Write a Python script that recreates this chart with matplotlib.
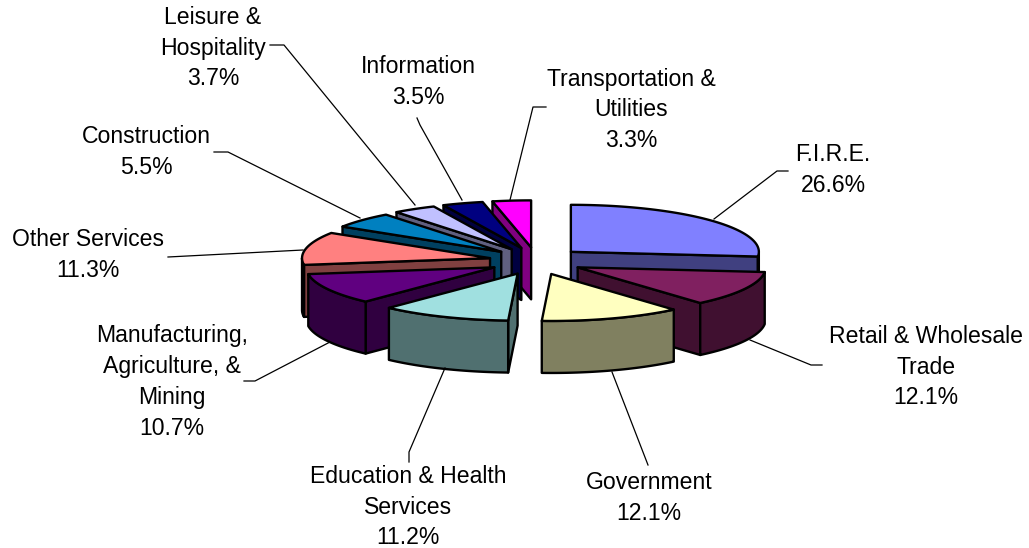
import numpy as np
import matplotlib
matplotlib.use('Agg')
import matplotlib.pyplot as plt
from matplotlib.patches import Polygon

# valeurs du camembert, dans le sens horaire depuis midi
secteurs = ['F.I.R.E.', 'Retail & Wholesale\nTrade', 'Government',
            'Education & Health\nServices', 'Manufacturing,\nAgriculture, &\nMining',
            'Other Services', 'Construction', 'Leisure &\nHospitality',
            'Information', 'Transportation &\nUtilities']
valeurs = [26.6, 12.1, 12.1, 11.2, 10.7, 11.3, 5.5, 3.7, 3.5, 3.3]
couleurs_haut = ['#8080FF', '#802060', '#FFFFC0', '#A0E0E0', '#600080',
                 '#FF8080', '#0080C0', '#C0C0FF', '#000080', '#FF00FF']
couleurs_cote = ['#404080', '#401030', '#808060', '#507070', '#300040',
                 '#804040', '#004060', '#606080', '#000040', '#800080']

# ordre de dessin : du fond vers l'avant
ordre = [9, 8, 7, 6, 5, 4, 3, 0, 1, 2]

# position du texte (x, y centre) et trait de rappel, en pixels
pos_textes = [(833, 170), (926, 367), (649, 498), (408, 507), (172, 382),
              (88, 255), (146, 152), (213, 48), (418, 82), (631, 110)]
rappels = [[(714, 219), (777, 171), (788, 171)],
           [(750, 340), (811, 365), (822, 365)],
           [(612, 372), (648, 465)],
           [(445, 368), (409, 452), (409, 462)],
           [(330, 342), (255, 381), (244, 381)],
           [(303, 250), (168, 257)],
           [(360, 218), (228, 152), (214, 152)],
           [(415, 205), (284, 45), (270, 45)],
           [(462, 200), (420, 125), (417, 118)],
           [(510, 200), (533, 107), (546, 107)]]

# géométrie de la fausse 3D
cx, cy = 536, 261
rx, ry = 188, 47
ex, ey = 47, 13.7
prof = 52


def point(a, x0, y0):
    return (x0 + rx * np.cos(a), y0 - ry * np.sin(a))


fig = plt.figure(figsize=(10.29, 5.48), dpi=100)
ax = fig.add_axes([0, 0, 1, 1])
ax.set_xlim(0, 1029)
ax.set_ylim(548, 0)
ax.axis('off')

bornes = 90 - 3.6 * np.cumsum([0] + valeurs)

for i in ordre:
    a0 = np.radians(bornes[i])      # bord de départ
    a1 = np.radians(bornes[i + 1])  # bord d'arrivée (a1 < a0)
    mid = (a0 + a1) / 2
    x0 = cx + ex * np.cos(mid)
    y0 = cy - ey * np.sin(mid)
    haut, cote = couleurs_haut[i], couleurs_cote[i]
    style = dict(edgecolor='black', linewidth=1.7, joinstyle='round')

    # faces coupées : seulement celles tournées vers le bas
    for a, normale_y in [(a0, np.cos(a0)), (a1, -np.cos(a1))]:
        if normale_y < 0:
            r = point(a, x0, y0)
            ax.add_patch(Polygon([(x0, y0), r, (r[0], r[1] + prof), (x0, y0 + prof)],
                                 closed=True, facecolor=cote, **style))

    # paroi extérieure visible (moitié basse de l'ellipse)
    angles = np.linspace(a0, a1, 80)
    angles = angles[np.sin(angles) <= 0]
    if len(angles) > 1:
        bord = [point(a, x0, y0) for a in angles]
        bas = [(p[0], p[1] + prof) for p in bord[::-1]]
        ax.add_patch(Polygon(bord + bas, closed=True, facecolor=cote, **style))

    # dessus
    dessus = [(x0, y0)] + [point(a, x0, y0) for a in np.linspace(a0, a1, 80)]
    ax.add_patch(Polygon(dessus, closed=True, facecolor=haut, **style))

for i in range(len(secteurs)):
    xs, ys = zip(*rappels[i])
    ax.plot(xs, ys, color='black', linewidth=0.9)
    x, y = pos_textes[i]
    ax.text(x, y, f'{secteurs[i]}\n{valeurs[i]}%', ha='center', va='center',
            family='Liberation Sans', fontsize=16.6, linespacing=1.44,
            color='black')

plt.savefig('out.png', dpi=100)
